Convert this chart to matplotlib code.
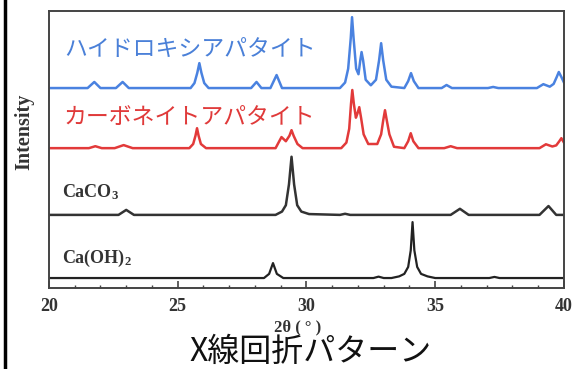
import matplotlib.pyplot as plt
from matplotlib.lines import Line2D
import numpy as np

plt.rcParams['mathtext.default'] = 'regular'

# XRD patterns (2theta in degrees, intensity above each baseline)
hap_x = [20.0, 21.5, 21.76, 22.0, 22.6, 22.86, 23.1, 25.5, 25.65, 25.76, 25.84, 25.92,
         26.03, 26.2, 27.85, 28.06, 28.25, 28.6, 28.84, 29.05, 31.3, 31.5, 31.62, 31.72,
         31.77, 31.83, 31.93, 32.02, 32.09, 32.14, 32.2, 32.3, 32.5, 32.7, 32.82, 32.9,
         32.98, 33.1, 33.3, 33.8, 33.95, 34.06, 34.17, 34.35, 35.25, 35.44, 35.65,
         37.05, 37.25, 37.45, 38.95, 39.2, 39.45, 39.6, 39.72, 39.8, 39.9, 40.0]
hap_y = [0, 0, 2.2, 0, 0, 2.2, 0, 0, 1.8, 5.5, 9.0, 5.5, 1.8, 0, 0, 2.2, 0, 0, 4.7, 0,
         0, 2, 7, 18, 25.6, 18, 7, 5, 10, 13.0, 10, 3, 1, 3, 10, 16.2, 10, 3, 0.5, 0,
         2.5, 5.4, 2.5, 0, 0, 1.1, 0, 0, 0.4, 0, 0, 1.4, 0.5, 1.5, 4, 5.8, 4, 2]

cap_x = [20.0, 21.55, 21.8, 22.05, 22.55, 22.9, 23.25, 25.45, 25.6, 25.69, 25.75, 25.81,
         25.9, 26.1, 28.8, 29.03, 29.2, 29.34, 29.42, 29.5, 29.65, 29.85, 31.35, 31.55,
         31.66, 31.73, 31.78, 31.84, 31.92, 31.98, 32.05, 32.12, 32.22, 32.4, 32.75,
         32.9, 32.98, 33.05, 33.12, 33.22, 33.4, 33.8, 33.95, 34.05, 34.15, 34.35,
         35.35, 35.6, 35.85, 39.05, 39.3, 39.55, 39.7, 39.82, 39.9, 40.0]
cap_y = [0, 0, 0.7, 0, 0, 1.1, 0, 0, 1.5, 4.5, 7.2, 4.5, 1.5, 0, 0, 4.0, 2.5, 4.5, 6.5,
         4.5, 1.5, 0, 0, 2, 7, 16, 21, 16, 11, 12.5, 14.8, 11, 5, 1.5, 1.5, 5, 10, 13.7,
         10, 5, 0.5, 0, 2.5, 5.4, 2.5, 0, 0, 0.7, 0, 0, 1.4, 0.6, 1.0, 2.5, 3.6, 2]

caco3_x = [20.0, 22.7, 23.0, 23.3, 28.8, 29.05, 29.2, 29.32, 29.42, 29.52, 29.64, 29.8,
           30.1, 31.3, 31.5, 31.7, 35.6, 35.96, 36.3, 39.05, 39.4, 39.7, 40.0]
caco3_y = [0, 0, 1.8, 0, 0, 1.2, 3.5, 11, 21, 11, 3.5, 1.2, 0.3, 0, 0.4, 0, 0, 2.2, 0,
           0, 3.2, 0, 0]

caoh_x = [20.0, 28.35, 28.55, 28.7, 28.85, 29.1, 32.6, 32.8, 33.0, 33.3, 33.6, 33.8,
          33.95, 34.05, 34.12, 34.19, 34.3, 34.45, 34.7, 35.0, 37.1, 37.3, 37.5, 40.0]
caoh_y = [0, 0, 1.5, 5.4, 1.5, 0, 0, 0.5, 0, 0, 0.6, 1.5, 4, 10, 20.2, 10, 4, 1.5, 0.6,
          0, 0, 0.4, 0, 0]

offsets = [72.2, 50.5, 26.4, 3.6]
labels = ['ハイドロキシアパタイト', 'カーボネイトアパタイト', 'CaCO$_3$', 'Ca(OH)$_2$']

fig = plt.figure(figsize=(5.79, 3.69), dpi=100)
ax = fig.add_axes([0.0846, 0.2195, 0.8894, 0.7505])

ax.plot(hap_x, np.array(hap_y) + offsets[0], color='#4a82e0', lw=1.8)
ax.plot(cap_x, np.array(cap_y) + offsets[1], color='#e23a3a', lw=1.8)
ax.plot(caco3_x, np.array(caco3_y) + offsets[2], color='#333333', lw=1.8)
ax.plot(caoh_x, np.array(caoh_y) + offsets[3], color='#222222', lw=1.6)

ax.text(20.6, 86.2, labels[0], color='#4a80d8', fontsize=16.5,
        family='Noto Sans CJK JP', va='center')
ax.text(20.55, 61.6, labels[1], color='#e03a3a', fontsize=16.5,
        family='Noto Sans CJK JP', va='center')
ax.text(20.5, 34.7, labels[2], color='#333333', fontsize=13,
        family='Liberation Serif', weight='bold', va='center')
ax.text(20.5, 10.5, labels[3], color='#333333', fontsize=13,
        family='Liberation Serif', weight='bold', va='center')

ax.set_xlim(20, 40)
ax.set_ylim(0, 100)
ax.set_xticks([20, 25, 30, 35, 40])
ax.set_xticks(np.arange(20, 41, 1), minor=True)
ax.set_yticks([])
ax.tick_params(axis='x', which='major', direction='in', length=5, width=1.2,
               color='#444444', labelsize=13, pad=7)
ax.tick_params(axis='x', which='minor', direction='in', length=2.5, width=1.0,
               color='#444444')
for lab in ax.get_xticklabels():
    lab.set_family('Liberation Serif')
    lab.set_weight('bold')
    lab.set_color('#333333')
for sp in ax.spines.values():
    sp.set_color('#444444')
    sp.set_linewidth(1.4)

ax.set_xlabel('2θ ( ° )', family='Liberation Serif', weight='bold', fontsize=12,
              color='#333333', labelpad=1)
ax.xaxis.set_label_coords(0.483, -0.115)
ax.set_ylabel('Intensity', family='Liberation Serif', weight='bold', fontsize=14.5,
              color='#333333')
ax.yaxis.set_label_coords(-0.028, 0.563)

fig.text(0.537, 0.046, 'X線回折パターン', family='Noto Sans CJK JP', fontsize=23,
         ha='center', va='center', color='#111111')

# dark frame edge on the left side of the picture
fig.add_artist(Line2D([0.009, 0.009], [0, 1], transform=fig.transFigure,
                      color='black', lw=2.5))

fig.savefig('out.png', dpi=100)
